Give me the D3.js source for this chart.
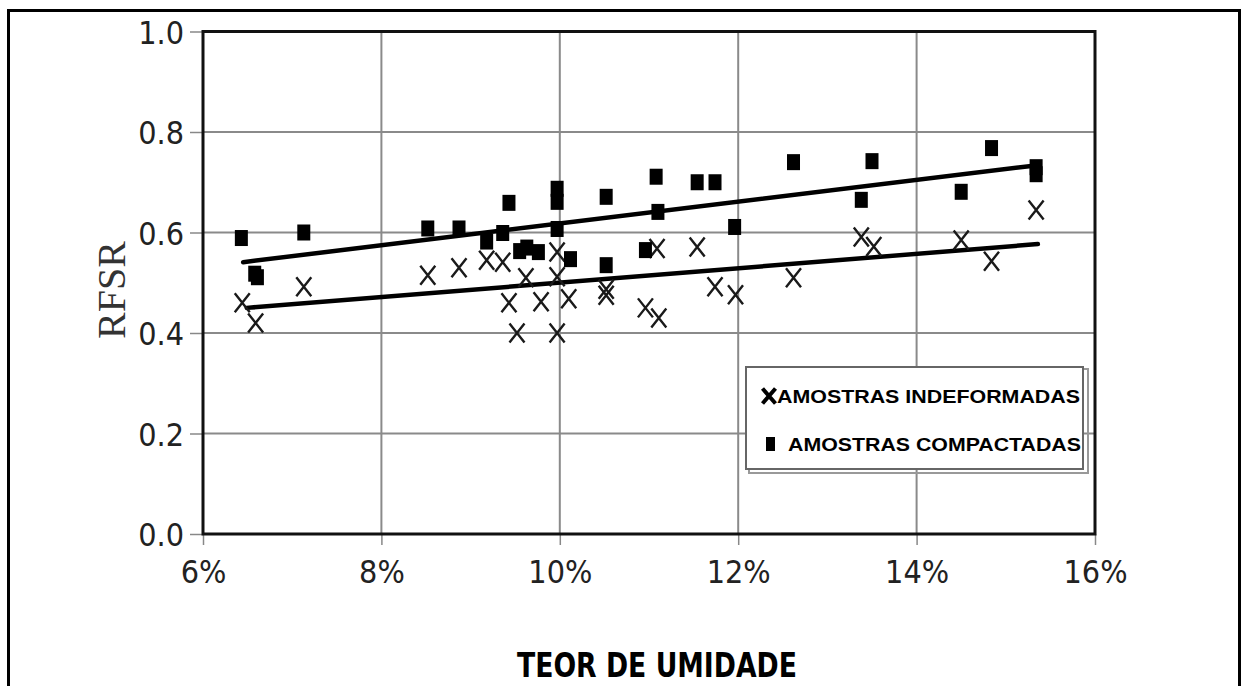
<!DOCTYPE html>
<html>
<head>
<meta charset="utf-8">
<script src="https://cdn.jsdelivr.net/npm/d3@7"></script>
<style>
  html, body { margin: 0; padding: 0; background: #fff; }
  svg { display: block; }
  .tick text { font-family: "Liberation Sans Narrow", "DejaVu Sans Condensed", sans-serif; fill: #222; }
</style>
</head>
<body>
<svg id="chart" width="1248" height="686"></svg>
<script>
// moisture content (fraction) and RFSR
const indefX = [0.0644, 0.0659, 0.0713, 0.0852, 0.0887, 0.0918, 0.0936, 0.0962, 0.0997, 0.0997,
                0.0943, 0.0979, 0.1010, 0.0952, 0.0997, 0.1052, 0.1052, 0.1109, 0.1154, 0.1096,
                0.1111, 0.1174, 0.1197, 0.1262, 0.1338, 0.1352, 0.1450, 0.1484, 0.1534];
const indefY = [0.460, 0.420, 0.492, 0.515, 0.530, 0.545, 0.541, 0.510, 0.512, 0.561,
                0.460, 0.462, 0.468, 0.400, 0.400, 0.475, 0.487, 0.568, 0.571, 0.450,
                0.430, 0.492, 0.476, 0.510, 0.591, 0.572, 0.585, 0.543, 0.645];

const compX = [0.0643, 0.0658, 0.0661, 0.0713, 0.0852, 0.0887, 0.0918, 0.0936, 0.0943, 0.0955,
               0.0963, 0.0976, 0.0997, 0.0997, 0.0997, 0.1012, 0.1052, 0.1052, 0.1096, 0.1108,
               0.1110, 0.1154, 0.1174, 0.1196, 0.1262, 0.1338, 0.1350, 0.1450, 0.1484, 0.1534, 0.1534];
const compY = [0.589, 0.518, 0.511, 0.600, 0.608, 0.608, 0.582, 0.599, 0.659, 0.563,
               0.570, 0.561, 0.687, 0.661, 0.607, 0.547, 0.671, 0.535, 0.565, 0.711,
               0.641, 0.700, 0.700, 0.611, 0.740, 0.665, 0.742, 0.681, 0.768, 0.730, 0.716];

// trend lines (end points)
const trendIndef = [[0.0649, 0.450], [0.1536, 0.577]];
const trendComp  = [[0.0645, 0.541], [0.1536, 0.734]];

const xTicks = [0.06, 0.08, 0.10, 0.12, 0.14, 0.16];
const yTicks = [0.0, 0.2, 0.4, 0.6, 0.8, 1.0];

const legendLabels = ["AMOSTRAS INDEFORMADAS", "AMOSTRAS COMPACTADAS"];

const svg = d3.select("#chart");

// outer frame
svg.append("rect")
    .attr("x", 8.5).attr("y", 10.5)
    .attr("width", 1231).attr("height", 700)
    .attr("fill", "none").attr("stroke", "#000").attr("stroke-width", 3);

const plotL = 203, plotR = 1095, plotT = 31.5, plotB = 534;
const x = d3.scaleLinear().domain([0.06, 0.16]).range([plotL, plotR]);
const y = d3.scaleLinear().domain([0, 1]).range([plotB, plotT]);

// grid
const grid = svg.append("g");
grid.selectAll("line.h")
    .data(yTicks.slice(1, -1))
    .enter().append("line")
    .attr("x1", plotL).attr("x2", plotR)
    .attr("y1", d => y(d)).attr("y2", d => y(d))
    .attr("stroke", "#8a8a8a").attr("stroke-width", 2);
grid.selectAll("line.v")
    .data(xTicks.slice(1, -1))
    .enter().append("line")
    .attr("y1", plotT).attr("y2", plotB)
    .attr("x1", d => x(d)).attr("x2", d => x(d))
    .attr("stroke", "#8a8a8a").attr("stroke-width", 2);

// axes
const yAxis = svg.append("g")
    .attr("transform", `translate(${plotL},0)`)
    .call(d3.axisLeft(y).tickValues(yTicks).tickFormat(d3.format(".1f")).tickSize(13).tickPadding(6));
yAxis.select(".domain").remove();
yAxis.selectAll(".tick line").attr("stroke", "#888").attr("stroke-width", 1.5);
yAxis.selectAll(".tick text").style("font-size", "32px").attr("dy", "0.36em");

const xAxis = svg.append("g")
    .attr("transform", `translate(0,${plotB})`)
    .call(d3.axisBottom(x).tickValues(xTicks).tickFormat(d3.format(".0%")).tickSize(11).tickPadding(15));
xAxis.select(".domain").remove();
xAxis.selectAll(".tick line").attr("stroke", "#888").attr("stroke-width", 1.5);
xAxis.selectAll(".tick text").style("font-size", "32px").attr("dy", "0.72em");

// plot border
svg.append("rect")
    .attr("x", plotL).attr("y", plotT)
    .attr("width", plotR - plotL).attr("height", plotB - plotT)
    .attr("fill", "none").attr("stroke", "#111").attr("stroke-width", 3);

// trend lines
const line = d3.line().x(d => x(d[0])).y(d => y(d[1]));
svg.selectAll("path.trend")
    .data([trendIndef, trendComp])
    .enter().append("path")
    .attr("class", "trend")
    .attr("d", line)
    .attr("fill", "none").attr("stroke", "#000").attr("stroke-width", 4.5)
    .attr("stroke-linecap", "round");

// markers
const crossPath = (cx, cy, w, h) =>
    `M${cx - w / 2},${cy - h / 2}L${cx + w / 2},${cy + h / 2}M${cx + w / 2},${cy - h / 2}L${cx - w / 2},${cy + h / 2}`;

svg.append("g").selectAll("path")
    .data(indefX.map((v, i) => [v, indefY[i]]))
    .enter().append("path")
    .attr("d", d => crossPath(x(d[0]), y(d[1]), 15, 19))
    .attr("stroke", "#1a1a1a").attr("stroke-width", 2.4).attr("fill", "none");

svg.append("g").selectAll("rect")
    .data(compX.map((v, i) => [v, compY[i]]))
    .enter().append("rect")
    .attr("x", d => x(d[0]) - 6.5).attr("y", d => y(d[1]) - 8)
    .attr("width", 13).attr("height", 16)
    .attr("fill", "#000");

// legend
const lg = svg.append("g");
lg.append("rect")
    .attr("x", 749).attr("y", 369).attr("width", 339).attr("height", 104)
    .attr("fill", "none").attr("stroke", "#999").attr("stroke-width", 2);
lg.append("rect")
    .attr("x", 746).attr("y", 367).attr("width", 337).attr("height", 102)
    .attr("fill", "#fff").attr("stroke", "#666").attr("stroke-width", 2);
lg.append("path")
    .attr("d", crossPath(769, 396, 13, 15))
    .attr("stroke", "#000").attr("stroke-width", 4).attr("fill", "none");
lg.append("rect")
    .attr("x", 766).attr("y", 437).attr("width", 9).attr("height", 14)
    .attr("fill", "#000");
lg.selectAll("text")
    .data(legendLabels)
    .enter().append("text")
    .attr("x", (d, i) => i === 0 ? 777 : 788)
    .attr("y", (d, i) => i === 0 ? 403 : 451)
    .attr("textLength", (d, i) => i === 0 ? 303 : 293)
    .attr("lengthAdjust", "spacingAndGlyphs")
    .style("font-family", "'Liberation Sans', Arial, sans-serif")
    .style("font-weight", "bold")
    .style("font-size", "19px")
    .style("fill", "#000")
    .text(d => d);

// axis titles
svg.append("text")
    .attr("transform", "translate(125,290) rotate(-90)")
    .attr("text-anchor", "middle")
    .style("font-family", "'Liberation Serif', 'Times New Roman', serif")
    .style("font-size", "40px")
    .style("fill", "#333")
    .text("RFSR");

svg.append("text")
    .attr("x", 657).attr("y", 677)
    .attr("text-anchor", "middle")
    .attr("textLength", 280)
    .attr("lengthAdjust", "spacingAndGlyphs")
    .style("font-family", "'Liberation Sans Narrow', 'DejaVu Sans Condensed', sans-serif")
    .style("font-weight", "bold")
    .style("font-size", "33px")
    .style("fill", "#000")
    .text("TEOR DE UMIDADE");
</script>
</body>
</html>
